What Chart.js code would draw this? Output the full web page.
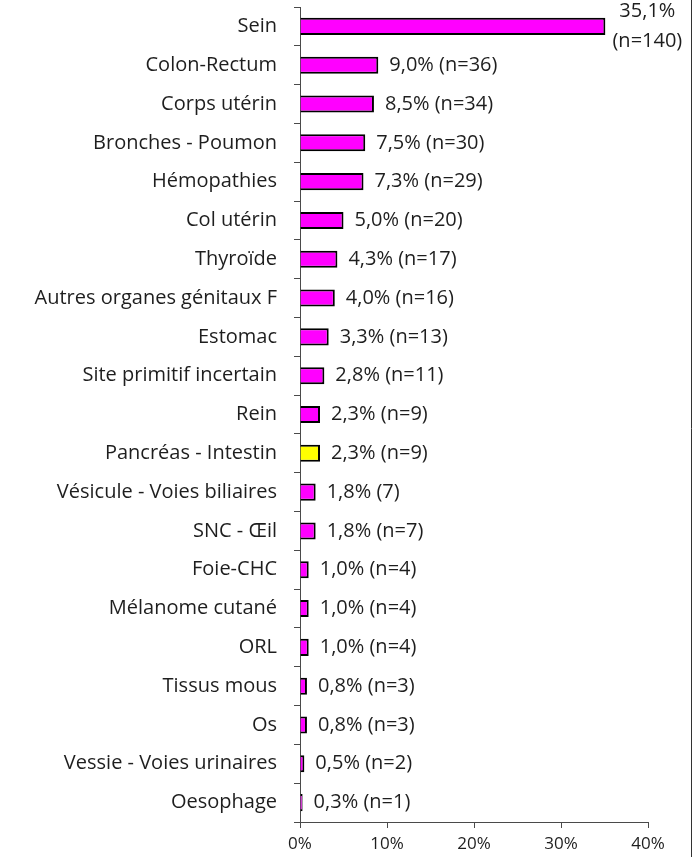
<!DOCTYPE html>
<html>
<head>
<meta charset="utf-8">
<script src="https://cdn.jsdelivr.net/npm/chart.js@4"></script>
<style>
  html, body { margin: 0; padding: 0; background: #fff; }
  #wrap { width: 700px; height: 857px; }
</style>
</head>
<body>
<div id="wrap"><canvas id="chart"></canvas></div>
<script>
var categories = ['Sein', 'Colon-Rectum', 'Corps utérin', 'Bronches - Poumon', 'Hémopathies', 'Col utérin',
  'Thyroïde', 'Autres organes génitaux F', 'Estomac', 'Site primitif incertain', 'Rein',
  'Pancréas - Intestin', 'Vésicule - Voies biliaires', 'SNC - Œil', 'Foie-CHC', 'Mélanome cutané',
  'ORL', 'Tissus mous', 'Os', 'Vessie - Voies urinaires', 'Oesophage'];
var percents = [35.1, 9.0, 8.5, 7.5, 7.3, 5.0, 4.3, 4.0, 3.3, 2.8, 2.3, 2.3, 1.8, 1.8, 1.0, 1.0, 1.0, 0.8, 0.8, 0.5, 0.3];
var valueLabels = ['35,1%\n(n=140)', '9,0% (n=36)', '8,5% (n=34)', '7,5% (n=30)', '7,3% (n=29)', '5,0% (n=20)',
  '4,3% (n=17)', '4,0% (n=16)', '3,3% (n=13)', '2,8% (n=11)', '2,3% (n=9)', '2,3% (n=9)', '1,8% (7)',
  '1,8% (n=7)', '1,0% (n=4)', '1,0% (n=4)', '1,0% (n=4)', '0,8% (n=3)', '0,8% (n=3)', '0,5% (n=2)', '0,3% (n=1)'];
var xTicks = [0, 10, 20, 30, 40];
var highlighted = 'Pancréas - Intestin';

var textColor = '#1e1e1e';
var axisColor = '#4a4a4a';
var fontFamily = "'Open Sans', sans-serif";

var barColors = categories.map(function (c) { return c === highlighted ? '#ffff00' : '#ff00ff'; });

// etiquettes de valeur a droite des barres + cadre a droite
var labelPlugin = {
  id: 'valueLabels',
  afterDatasetsDraw: function (chart) {
    var ctx = chart.ctx;
    var meta = chart.getDatasetMeta(0);
    ctx.save();
    ctx.fillStyle = textColor;
    ctx.font = '20px ' + fontFamily;
    ctx.textBaseline = 'middle';
    meta.data.forEach(function (bar, i) {
      var txt = valueLabels[i];
      if (txt.indexOf('\n') >= 0) {
        var lines = txt.split('\n');
        ctx.textAlign = 'center';
        ctx.fillText(lines[0], bar.x + 42, bar.y - 15);
        ctx.fillText(lines[1], bar.x + 42, bar.y + 15);
      } else {
        ctx.textAlign = 'left';
        ctx.fillText(txt, bar.x + 11, bar.y);
      }
    });
    ctx.restore();
  },
  afterDraw: function (chart) {
    var ctx = chart.ctx;
    ctx.save();
    ctx.strokeStyle = '#333';
    ctx.lineWidth = 1;
    ctx.beginPath();
    ctx.moveTo(691.5, 0);
    ctx.lineTo(691.5, chart.height);
    ctx.stroke();
    ctx.restore();
  }
};

var ctx = document.getElementById('chart').getContext('2d');
var myChart = new Chart(ctx, {
  type: 'bar',
  data: {
    labels: categories,
    datasets: [{
      data: percents,
      backgroundColor: barColors,
      borderColor: '#000',
      borderWidth: 2,
      barPercentage: 0.44,
      categoryPercentage: 1
    }]
  },
  options: {
    indexAxis: 'y',
    responsive: true,
    maintainAspectRatio: false,
    animation: false,
    layout: { padding: { top: 7, right: 52, left: 0, bottom: 0 } },
    plugins: {
      legend: { display: false },
      tooltip: { enabled: false }
    },
    scales: {
      x: {
        min: 0,
        max: 40,
        afterBuildTicks: function (scale) {
          scale.ticks = xTicks.map(function (v) { return { value: v }; });
        },
        ticks: {
          color: textColor,
          font: { family: fontFamily, size: 17 },
          padding: 6,
          maxRotation: 0,
          callback: function (v) { return v + '%'; }
        },
        grid: { drawOnChartArea: false, tickLength: 6, color: axisColor },
        border: { color: axisColor, width: 1 },
        afterFit: function (scale) {
          scale.height = 35;
          scale.paddingLeft = 0;
          scale.paddingRight = 0;
        }
      },
      y: {
        ticks: {
          color: textColor,
          font: { family: fontFamily, size: 20 },
          padding: 17,
          autoSkip: false
        },
        grid: { offset: true, drawOnChartArea: false, tickLength: 6, color: axisColor },
        border: { color: axisColor, width: 1 },
        afterFit: function (scale) {
          scale.width = 300;
          scale.paddingTop = 0;
          scale.paddingBottom = 0;
        }
      }
    }
  },
  plugins: [labelPlugin]
});
</script>
</body>
</html>
